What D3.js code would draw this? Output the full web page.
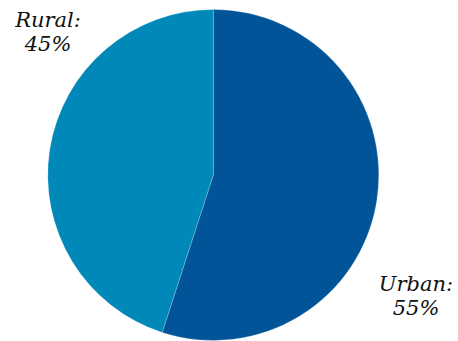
<!DOCTYPE html>
<html>
<head>
<meta charset="utf-8">
<script src="https://cdn.jsdelivr.net/npm/d3@7"></script>
<style>
  html, body { margin: 0; padding: 0; background: #fff; }
  svg { display: block; }
  .lbl { font-family: "DejaVu Serif", serif; font-style: italic; font-size: 21px; fill: #111; }
</style>
</head>
<body>
<svg id="chart" width="458" height="341"></svg>
<script>
// Share of population by area type
const categories = ["Urban", "Rural"];
const values = [55, 45];
const colors = ["#005497", "#0089b8"];

const width = 458, height = 341;
const cx = 213.3, cy = 175, radius = 165.5;

// Label anchor points (text centre, first baseline) for each slice
const labelPos = {
  Urban: [416, 291],
  Rural: [48, 27]
};

const svg = d3.select("#chart");
const g = svg.append("g").attr("transform", `translate(${cx},${cy})`);

const data = categories.map((c, i) => ({ name: c, value: values[i] }));
const pie = d3.pie().sort(null).value(d => d.value)
  .startAngle(0).endAngle(2 * Math.PI);
const arc = d3.arc().innerRadius(0).outerRadius(radius);
const color = d3.scaleOrdinal().domain(categories).range(colors);

g.selectAll("path.slice")
  .data(pie(data))
  .join("path")
  .attr("class", "slice")
  .attr("d", arc)
  .attr("fill", d => color(d.data.name))
  .attr("stroke", "#ffffff")
  .attr("stroke-width", 0.4)
  .attr("stroke-opacity", 0.5);

const total = d3.sum(values);
const labels = svg.selectAll("text.lbl")
  .data(data)
  .join("text")
  .attr("class", "lbl")
  .attr("text-anchor", "middle")
  .attr("x", d => labelPos[d.name][0])
  .attr("y", d => labelPos[d.name][1]);

labels.append("tspan")
  .attr("x", d => labelPos[d.name][0])
  .text(d => d.name + ":");
labels.append("tspan")
  .attr("x", d => labelPos[d.name][0])
  .attr("dy", 24)
  .text(d => Math.round(d.value / total * 100) + "%");
</script>
</body>
</html>
